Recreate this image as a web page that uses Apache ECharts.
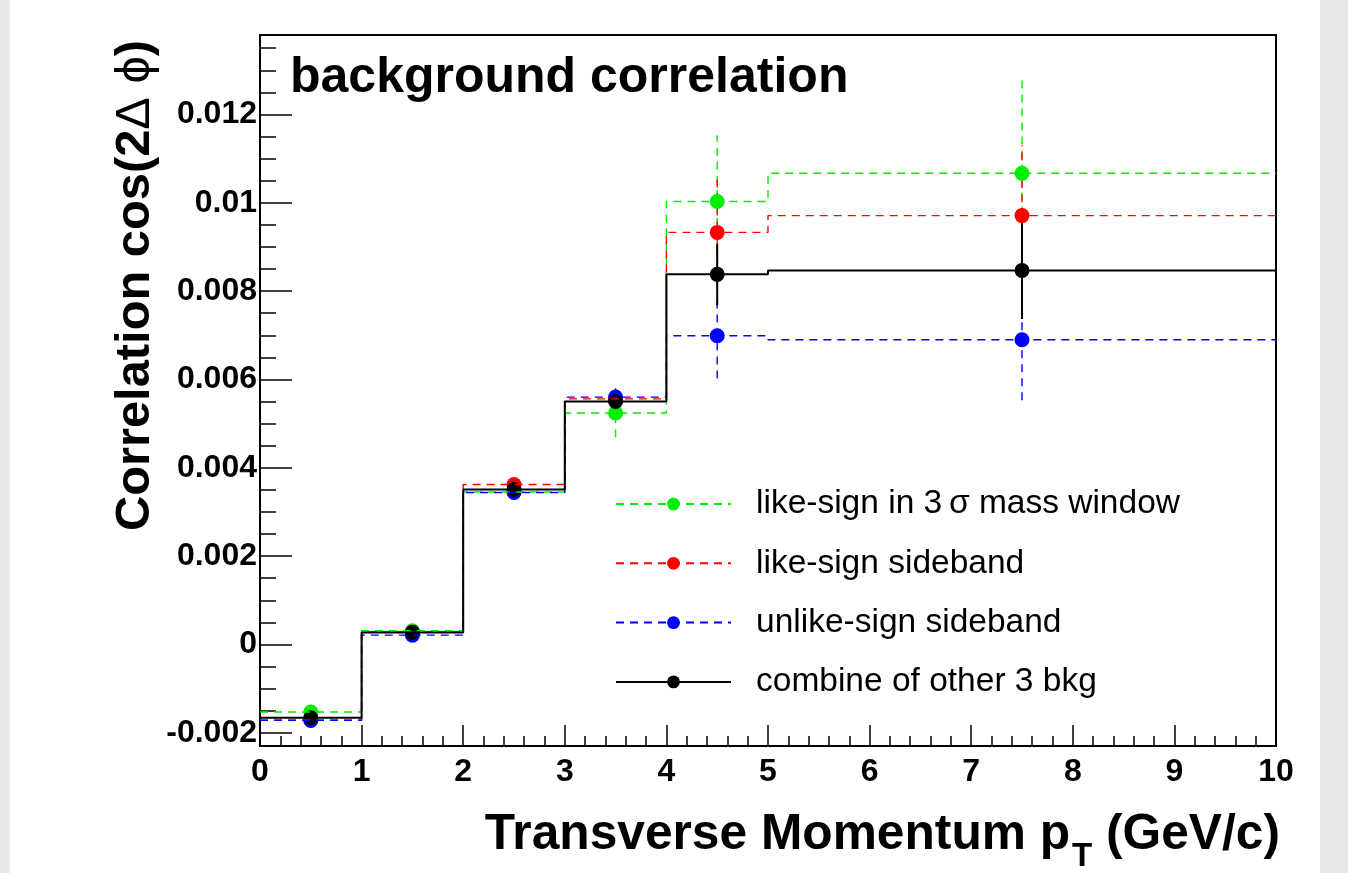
<!DOCTYPE html>
<html>
<head>
<meta charset="utf-8">
<title>background correlation</title>
<script src="https://cdn.jsdelivr.net/npm/echarts@6/dist/echarts.min.js"></script>
<style>
  html, body { margin: 0; padding: 0; background: #e8e8e8; }
  #chart { position: absolute; left: 10px; top: 0; width: 1310px; height: 873px; background: #fff; }
</style>
</head>
<body>
<div id="chart"></div>
<script>
// pT bins (GeV/c): edges and centres
const binEdges = [0, 1, 2, 3, 4, 5, 10]
const binCenters = [0.5, 1.5, 2.5, 3.5, 4.5, 7.5]

// <cos(2 dphi)> per bin
const likeSignWindow = [-0.00153, 0.00031, 0.00345, 0.00524, 0.01003, 0.01067]
const likeSignWindowErr = [0.00008, 0.00008, 0.0001, 0.00055, 0.0015, 0.0022]
const likeSignSide = [-0.00171, 0.00028, 0.00362, 0.00556, 0.00933, 0.00971]
const likeSignSideErr = [0.00006, 0.00006, 0.00008, 0.0003, 0.0012, 0.0016]
const unlikeSignSide = [-0.00172, 0.00021, 0.00344, 0.0056, 0.00699, 0.0069]
const unlikeSignSideErr = [0.00006, 0.00006, 0.00008, 0.0003, 0.00097, 0.00137]
const combined = [-0.00166, 0.00027, 0.00351, 0.0055, 0.00838, 0.00847]
const combinedErr = [0.00004, 0.00004, 0.00006, 0.0002, 0.0007, 0.0011]

const names = [
  'like-sign in 3\u2009σ mass window',
  'like-sign sideband',
  'unlike-sign sideband',
  'combine of other 3 bkg'
]

const FONT = '"Liberation Sans", Arial, Helvetica, sans-serif'

const sets = [
  { name: names[0], vals: likeSignWindow, errs: likeSignWindowErr, color: '#00ee00', dash: [8, 6], width: 1.4 },
  { name: names[1], vals: likeSignSide, errs: likeSignSideErr, color: '#ff0000', dash: [8, 6], width: 1.4 },
  { name: names[2], vals: unlikeSignSide, errs: unlikeSignSideErr, color: '#0000ff', dash: [8, 6], width: 1.4 },
  { name: names[3], vals: combined, errs: combinedErr, color: '#000000', dash: 'solid', width: 2 }
]

// histogram outline: one point per left bin edge, plus the last right edge
function stepPoints(vals) {
  const pts = vals.map((v, i) => [binEdges[i], v])
  pts.push([binEdges[binEdges.length - 1], vals[vals.length - 1]])
  return pts
}

const series = []
sets.forEach(s => {
  series.push({
    name: s.name,
    type: 'line',
    step: 'end',
    data: stepPoints(s.vals),
    symbol: 'circle',
    showSymbol: false,
    silent: true,
    itemStyle: { color: s.color },
    lineStyle: { color: s.color, width: s.width, type: s.dash }
  })
  series.push({
    name: s.name + ' err',
    type: 'custom',
    silent: true,
    data: binCenters.map((x, i) => [x, s.vals[i], s.errs[i]]),
    renderItem: (params, api) => {
      const x = api.value(0), y = api.value(1), e = api.value(2)
      const p1 = api.coord([x, y - e])
      const p2 = api.coord([x, y + e])
      return {
        type: 'line',
        shape: { x1: p1[0], y1: p1[1], x2: p2[0], y2: p2[1] },
        style: { stroke: s.color, lineWidth: s.width, lineDash: s.dash === 'solid' ? null : s.dash }
      }
    }
  })
  series.push({
    name: s.name + ' pts',
    type: 'scatter',
    silent: true,
    symbol: 'circle',
    symbolSize: 15,
    data: binCenters.map((x, i) => [x, s.vals[i]]),
    itemStyle: { color: s.color, opacity: 1 }
  })
})

const chart = echarts.init(document.getElementById('chart'))
chart.setOption({
  animation: false,
  backgroundColor: '#fff',
  grid: {
    left: 250, right: 44, top: 35, bottom: 127,
    show: true, borderColor: '#000', borderWidth: 2, backgroundColor: 'transparent'
  },
  legend: {
    data: names,
    orient: 'vertical',
    left: 605,
    top: 484,
    padding: 0,
    itemWidth: 115,
    itemHeight: 16,
    itemGap: 19.3,
    selectedMode: false,
    textStyle: { fontFamily: FONT, fontSize: 33.5, color: '#000', lineHeight: 40, padding: [0, 0, 0, 20] }
  },
  xAxis: {
    type: 'value',
    min: 0,
    max: 10,
    interval: 1,
    axisLine: { onZero: false, lineStyle: { color: '#000', width: 2 } },
    axisTick: { inside: true, length: 21, lineStyle: { color: '#000', width: 1.5 } },
    minorTick: { show: true, splitNumber: 5, length: 10, lineStyle: { color: '#000', width: 1.5 } },
    splitLine: { show: false },
    axisLabel: { fontFamily: FONT, fontSize: 32, fontWeight: 'bold', color: '#000', margin: 10 }
  },
  yAxis: {
    type: 'value',
    min: -0.0023,
    max: 0.0138,
    splitNumber: 8,
    axisLine: { onZero: false, lineStyle: { color: '#000', width: 2 } },
    axisTick: { inside: true, length: 32, lineStyle: { color: '#000', width: 1.5 } },
    minorTick: { show: true, splitNumber: 4, length: 16, lineStyle: { color: '#000', width: 1.5 } },
    splitLine: { show: false },
    axisLabel: {
      fontFamily: FONT, fontSize: 32, fontWeight: 'bold', color: '#000', margin: 3,
      showMinLabel: false, showMaxLabel: false
    }
  },
  graphic: [
    {
      type: 'text', x: 280, y: 78,
      style: { text: 'background correlation', font: 'bold 50px ' + FONT, fill: '#000', align: 'left', verticalAlign: 'middle' }
    },
    {
      type: 'text', x: 126, y: 40, rotation: Math.PI / 2,
      style: {
        text: 'Correlation cos(2{g|Δ} {g|ϕ})',
        font: 'bold 48.8px ' + FONT, fill: '#000', align: 'right', verticalAlign: 'middle',
        rich: { g: { fontFamily: FONT, fontSize: 48.8, fontWeight: 'normal', fill: '#000' } }
      }
    },
    {
      type: 'text', x: 1270, y: 835,
      style: {
        text: 'Transverse Momentum p{sub|T} (GeV/c)',
        font: 'bold 49.7px ' + FONT, fill: '#000', align: 'right', verticalAlign: 'middle',
        rich: { sub: { fontFamily: FONT, fontSize: 33, fontWeight: 'bold', fill: '#000', padding: [44, 0, 0, 2] } }
      }
    }
  ],
  series: series
})
</script>
</body>
</html>
